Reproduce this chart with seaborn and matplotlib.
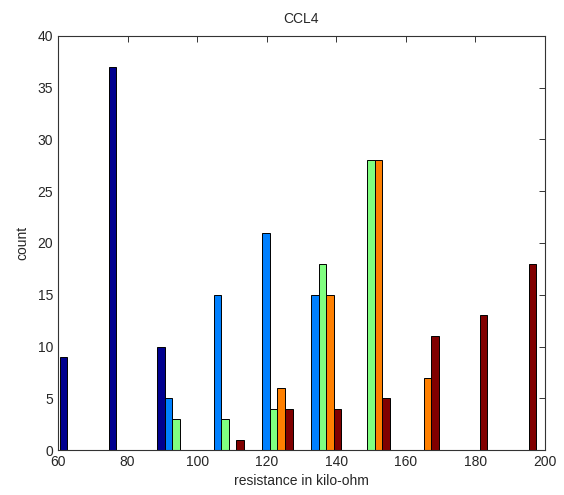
import numpy as np
import pandas as pd
import seaborn as sns
import matplotlib
matplotlib.use("Agg")
import matplotlib.pyplot as plt

bin_centers = [66, 80, 94, 108, 122, 136, 150, 164, 178, 192]
series_names = ["s1", "s2", "s3", "s4", "s5"]
s1 = [9, 37, 10, 0, 0, 0, 0, 0, 0, 0]
s2 = [0, 0, 5, 15, 21, 15, 0, 0, 0, 0]
s3 = [0, 0, 3, 3, 4, 18, 28, 0, 0, 0]
s4 = [0, 0, 0, 0, 6, 15, 28, 7, 0, 0]
s5 = [0, 0, 0, 1, 4, 4, 5, 11, 13, 18]
colors = ["#00008F", "#0080FF", "#80FF80", "#FF8000", "#800000"]

rows = []
for name, vals in zip(series_names, [s1, s2, s3, s4, s5]):
    for c, v in zip(bin_centers, vals):
        rows.append({"center": c, "count": v, "series": name})
df = pd.DataFrame(rows)

sns.set_style("white")
plt.rcParams["font.family"] = ["Liberation Sans", "DejaVu Sans"]

fig = plt.figure(figsize=(5.64, 4.95), dpi=100)
ax = fig.add_axes([0.1028, 0.0909, 0.8634, 0.8364])
sns.barplot(data=df, x="center", y="count", hue="series", hue_order=series_names,
            palette=colors, native_scale=True, width=0.78, dodge=True,
            saturation=1, edgecolor="black", linewidth=0.7, legend=False,
            errorbar=None, ax=ax)

ax.set_xlim(60, 200)
ax.set_ylim(0, 40)
ax.set_xticks(range(60, 201, 20))
ax.set_yticks(range(0, 41, 5))
ax.tick_params(direction="in", top=True, right=True, labelsize=10, length=4,
               width=0.7, color="#333333", pad=3.5)
for s in ax.spines.values():
    s.set_visible(True)
    s.set_color("#333333")
    s.set_linewidth(0.8)
ax.set_title("CCL4", fontsize=10, pad=9)
ax.set_xlabel("resistance in kilo-ohm", fontsize=10, labelpad=4)
ax.set_ylabel("count", fontsize=10, labelpad=6)
fig.savefig("out.png", dpi=100, facecolor="white")
